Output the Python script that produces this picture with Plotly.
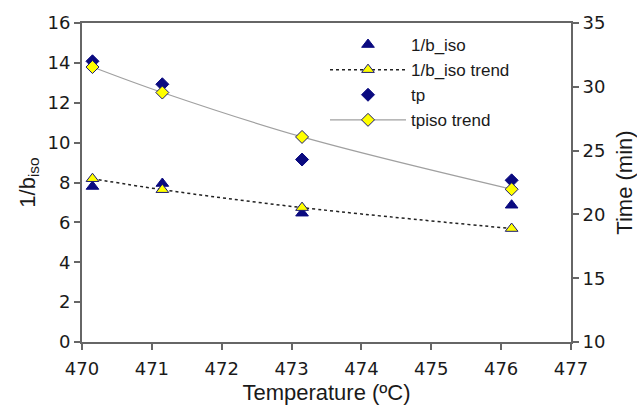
import plotly.graph_objects as go

temps = [470.15, 471.15, 473.15, 476.15]
inv_b_iso = [7.8, 7.95, 6.46, 6.86]
inv_b_iso_trend = [8.19, 7.64, 6.74, 5.69]
tp = [32.0, 30.2, 24.3, 22.67]
tpiso_trend = [31.55, 29.55, 26.07, 21.97]

navy = "#0a0a80"
yellow = "#ffff00"
font = "Liberation Sans, Arial, sans-serif"
tickfont = "DejaVu Sans, sans-serif"
txt = "#1a1a1a"

fig = go.Figure()
fig.add_trace(go.Scatter(x=temps, y=inv_b_iso, mode="markers", name="1/b_iso",
                         marker=dict(symbol="triangle-up", size=11, color=navy,
                                     line=dict(color=navy, width=1))))
fig.add_trace(go.Scatter(x=temps, y=inv_b_iso_trend, mode="lines+markers", name="1/b_iso trend",
                         line=dict(color="#222222", width=1.5, dash="dot", shape="spline"),
                         marker=dict(symbol="triangle-up", size=11, color=yellow,
                                     line=dict(color="#1a1a70", width=1))))
fig.add_trace(go.Scatter(x=temps, y=tp, mode="markers", name="tp", yaxis="y2",
                         marker=dict(symbol="diamond", size=10, color=navy,
                                     line=dict(color=navy, width=1))))
fig.add_trace(go.Scatter(x=temps, y=tpiso_trend, mode="lines+markers", name="tpiso trend", yaxis="y2",
                         line=dict(color="#a0a0a0", width=1.2, shape="spline"),
                         marker=dict(symbol="diamond", size=10, color=yellow,
                                     line=dict(color="#1a1a70", width=1))))

axis_common = dict(showline=True, linecolor="#666666", linewidth=2, ticks="outside",
                   ticklen=6, tickcolor="#666666", tickwidth=1.5, showgrid=False,
                   zeroline=False, automargin=False,
                   tickfont=dict(family=tickfont, size=18, color=txt))

fig.update_layout(
    width=637, height=405,
    margin=dict(l=82, r=66, t=23, b=63),
    paper_bgcolor="white", plot_bgcolor="white",
    font=dict(family=font, color=txt),
    xaxis=dict(range=[470, 477], dtick=1, mirror=True, ticklabelstandoff=3,
               title=dict(text="Temperature (ºC)", font=dict(family=font, size=22), standoff=10),
               **axis_common),
    yaxis=dict(range=[0, 16], dtick=2,
               title=dict(text="1/b<sub>iso</sub>", font=dict(family=font, size=22), standoff=6),
               **axis_common),
    yaxis2=dict(range=[10, 35], dtick=5, overlaying="y", side="right",
                title=dict(text="Time (min)", font=dict(family=font, size=22), standoff=12),
                **axis_common),
    legend=dict(x=(325 - 82) / 489, y=1 - (27 - 23) / 319, xanchor="left", yanchor="top",
                bgcolor="rgba(0,0,0,0)",
                font=dict(family=font, size=17, color=txt), itemwidth=76,
                tracegroupgap=0),
    showlegend=True,
)

fig.write_html("out.html")
